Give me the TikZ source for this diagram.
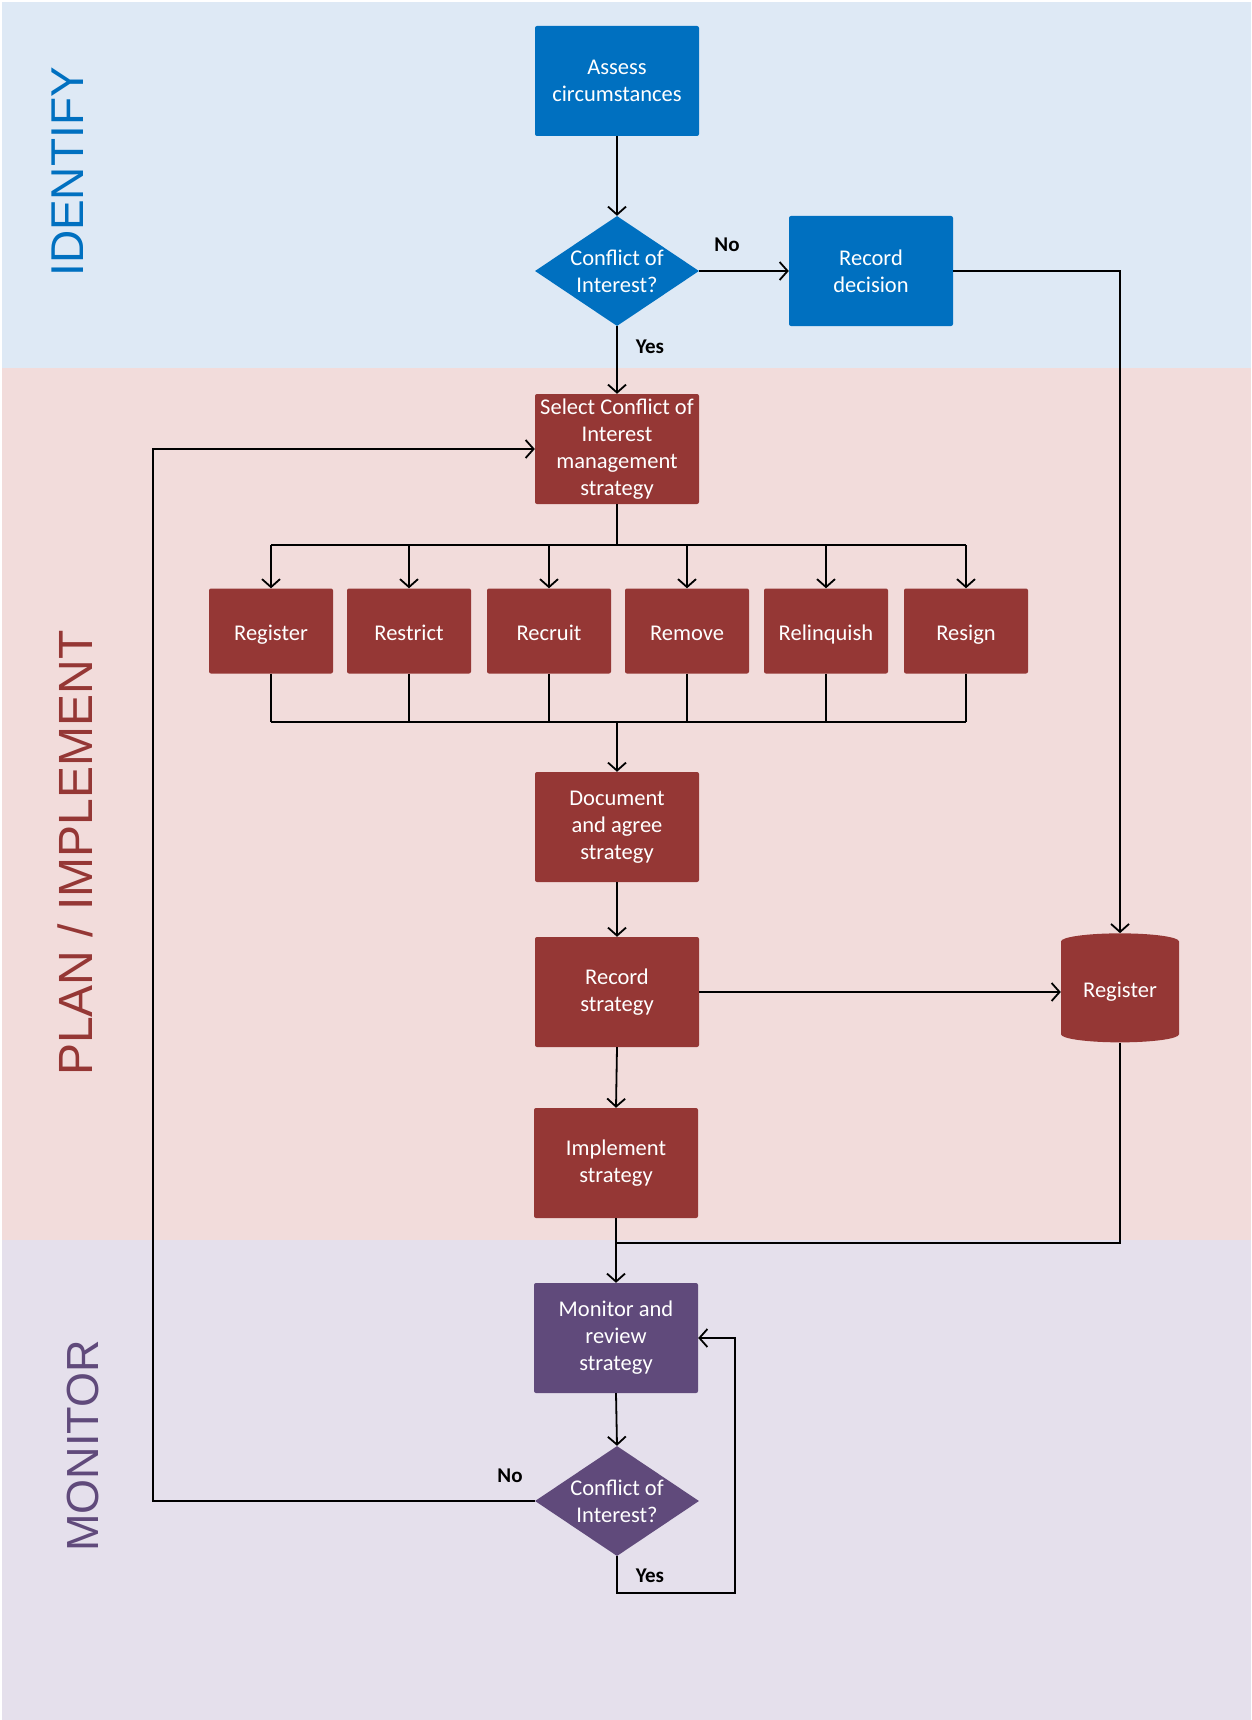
\documentclass[tikz,border=0pt]{standalone}
\usepackage{fontspec}
\setmainfont{Carlito}
\newfontfamily\arialfont{Liberation Sans}
\usetikzlibrary{arrows.meta,shapes.geometric}
\definecolor{idblue}{RGB}{0,112,192}
\definecolor{plred}{RGB}{149,55,53}
\definecolor{mopurple}{RGB}{96,74,123}
\definecolor{bandblue}{RGB}{222,233,245}
\definecolor{bandred}{RGB}{242,220,219}
\definecolor{bandpurple}{RGB}{229,224,236}
\tikzset{
  boxtext/.style={text=white, align=center, font=\fontsize{22.5}{27}\selectfont},
  procbox/.style={boxtext, rounded corners=2pt, minimum width=164pt, minimum height=110pt, inner sep=0pt},
  smallbox/.style={boxtext, rounded corners=2pt, minimum width=124pt, minimum height=85pt, inner sep=0pt, text height=22pt, text depth=4pt},
  decision/.style={diamond, minimum width=164pt, minimum height=110pt, inner sep=0pt},
  lbl/.style={font=\bfseries\fontsize{21}{24}\selectfont, text=black},
  band/.style={font=\arialfont, rotate=90},
  conn/.style={line width=1.8pt, draw=black},
  arr/.style={conn, -{Straight Barb[length=8pt,width=18pt,line width=1.8pt]}},
}
\begin{document}
\begin{tikzpicture}[x=1pt,y=-1pt]
\useasboundingbox (0,0) rectangle (1251,1720);
% bands
\fill[white] (0,0) rectangle (1251,1720);
\fill[bandblue] (2,2) rectangle (1251,368);
\fill[bandred] (2,368) rectangle (1251,1240);
\fill[bandpurple] (2,1240) rectangle (1251,1720);
\node[band, text=idblue, font=\arialfont\fontsize{46}{50}\selectfont] (lid) at (68,172) {IDENTIFY};
\node[band, text=plred, font=\arialfont\fontsize{48}{54}\selectfont] (lpl) at (75,853) {PLAN / IMPLEMENT};
\node[band, text=mopurple, font=\arialfont\fontsize{45}{50}\selectfont] (lmo) at (83,1446) {MONITOR};
% identify
\node[procbox, fill=idblue] (assess) at (617,81) {Assess\\circumstances};
\node[decision, fill=idblue, label={[boxtext]center:Conflict of\\Interest?}] (coi1) at (617,271) {};
\node[procbox, fill=idblue] (recdec) at (871,271) {Record\\decision};
% plan
\node[procbox, fill=plred] (select) at (617,449) {Select Conflict of\\Interest\\management\\strategy};
\node[smallbox, fill=plred] (s1) at (271,631) {Register};
\node[smallbox, fill=plred] (s2) at (409,631) {Restrict};
\node[smallbox, fill=plred] (s3) at (549,631) {Recruit};
\node[smallbox, fill=plred] (s4) at (687,631) {Remove};
\node[smallbox, fill=plred] (s5) at (826,631) {Relinquish};
\node[smallbox, fill=plred] (s6) at (966,631) {Resign};
\node[procbox, fill=plred] (doc) at (617,827) {Document\\and agree\\strategy};
\node[procbox, fill=plred] (recstr) at (617,992) {Record\\strategy};
\node[procbox, fill=plred] (impl) at (616,1163) {Implement\\strategy};
\node[cylinder, shape border rotate=90, aspect=0.22, fill=plred, boxtext, minimum width=118pt, minimum height=109pt, inner sep=0pt] (reg) at (1120,992) {Register};
% monitor
\node[procbox, fill=mopurple] (mon) at (616,1338) {Monitor and\\review\\strategy};
\node[decision, fill=mopurple, label={[boxtext]center:Conflict of\\Interest?}] (coi2) at (617,1501) {};
% coordinates
\coordinate (btop) at (617,545);
\coordinate (bbot) at (617,722);
\coordinate (join) at (617,1243);
% connectors identify
\draw[arr] (assess) -- (coi1);
\draw[arr] (coi1) -- (recdec);
\node[lbl] (no1) at (727,245) {No};
\draw[arr] (recdec.east) -| (reg.north);
\draw[arr] (coi1.south) -- (select.north);
\node[lbl] (yes1) at (650,347) {Yes};
% strategy bus
\draw[conn] (select.south) -- (btop);
\draw[conn] (s1.north |- btop) -- (s6.north |- btop);
\foreach \s in {s1,s2,s3,s4,s5,s6}{
  \draw[arr] (\s.north |- btop) -- (\s.north);
  \draw[conn] (\s.south) -- (\s.south |- bbot);
}
\draw[conn] (s1.south |- bbot) -- (s6.south |- bbot);
\draw[arr] (bbot) -- (doc.north);
\draw[arr] (doc.south) -- (recstr.north);
\draw[arr] (recstr.east) -- (reg.west);
\draw[arr] (recstr.south) -- (impl.north);
\draw[arr] (impl.south) -- (mon.north);
\draw[conn] (reg.south) |- (join);
\draw[arr] (mon.south) -- (coi2.north);
% loops
\coordinate (lb) at (153,1501);
\draw[arr] (coi2.west) -- (lb) |- (select.west);
\node[lbl] (no2) at (510,1476) {No};
\coordinate (yb) at (617,1593);
\draw[arr] (coi2.south) -- (yb) -- (735,1593) |- (mon.east);
\node[lbl] (yes2) at (650,1576) {Yes};
\end{tikzpicture}
\end{document}
